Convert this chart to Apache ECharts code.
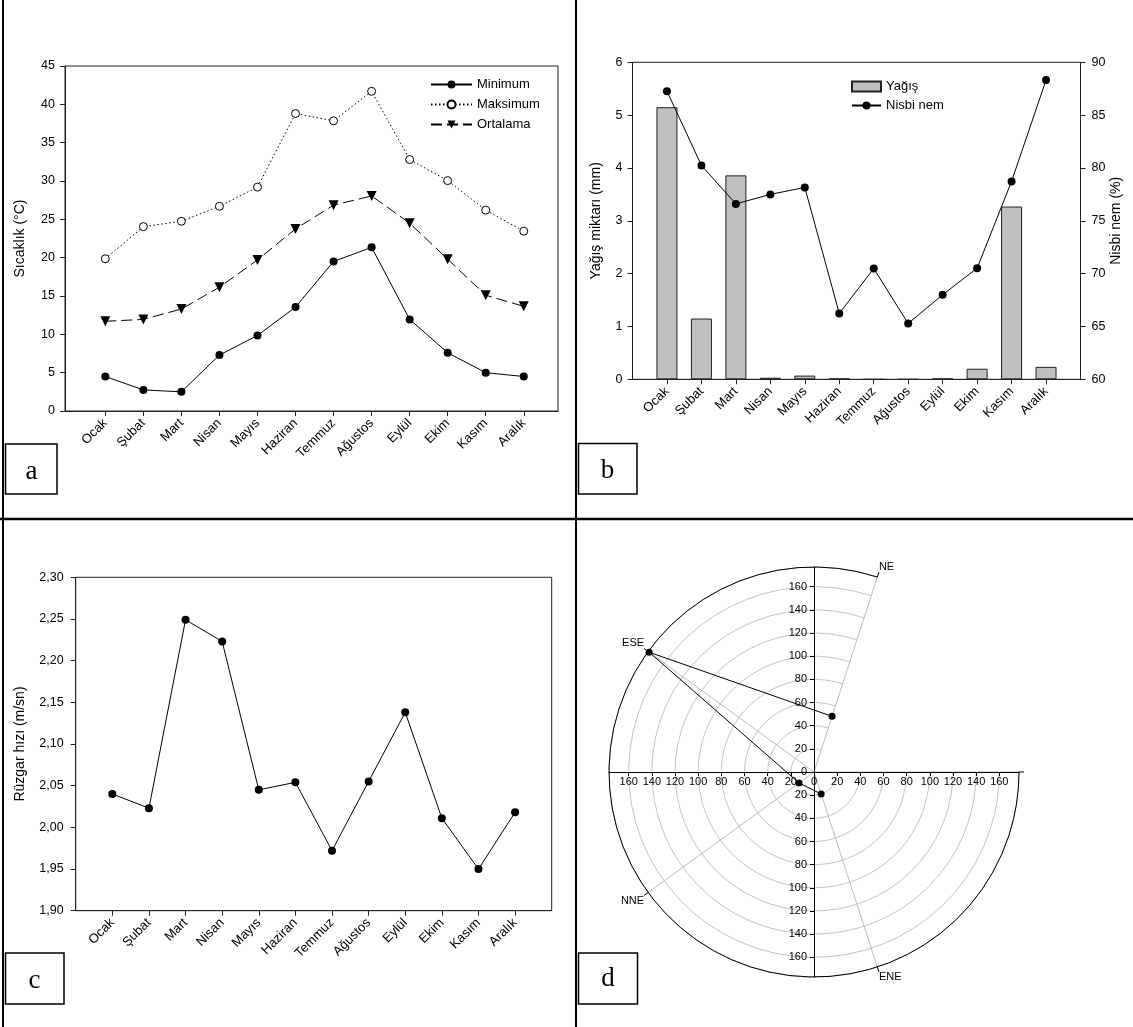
<!DOCTYPE html>
<html><head><meta charset="utf-8">
<script src="https://cdn.jsdelivr.net/npm/echarts@6/dist/echarts.min.js"></script>
<style>html,body{margin:0;padding:0;background:#fff}#c{width:1133px;height:1027px}</style>
</head><body><div id="c"></div>
<script>
// ---------- data ----------
const months = ['Ocak','Şubat','Mart','Nisan','Mayıs','Haziran','Temmuz','Ağustos','Eylül','Ekim','Kasım','Aralık'];
// panel a: temperature (°C)
const tempMin  = [4.5, 2.75, 2.5, 7.3, 9.85, 13.55, 19.5, 21.35, 11.95, 7.6, 5.0, 4.5];
const tempMax  = [19.85, 24.05, 24.75, 26.7, 29.2, 38.8, 37.85, 41.7, 32.8, 30.05, 26.2, 23.45];
const tempMean = [11.7, 11.95, 13.3, 16.15, 19.7, 23.75, 26.85, 28.05, 24.5, 19.8, 15.1, 13.65];
// panel b: precipitation (mm) and relative humidity (%)
const rain     = [5.15, 1.15, 3.86, 0.03, 0.07, 0.015, 0, 0, 0.015, 0.2, 3.27, 0.235];
const humidity = [87.27, 80.24, 76.6, 77.5, 78.16, 66.23, 70.48, 65.28, 68.0, 70.52, 78.73, 88.32];
// panel c: wind speed (m/s)
const wind     = [2.040, 2.023, 2.249, 2.223, 2.045, 2.054, 1.972, 2.055, 2.138, 2.011, 1.950, 2.018];
// panel d: wind direction polar plot
const directions = ['NE', 'ESE', 'NNE', 'ENE', ''];
const dirValues  = [50.5, 176, 16, 20, null];
const radialTickLabels = [0, 20, 40, 60, 80, 100, 120, 140, 160];

// ---------- helpers ----------
const idx = months.map((_, i) => i);
const pairs = arr => arr.map((v, i) => [i, v]);
const radTicks = radialTickLabels.slice(1).reverse().map(v => -v).concat(radialTickLabels);
const AX = '#222';
const FONT = '"Liberation Sans", Arial, sans-serif';
const SERIF = '"Liberation Serif", "Times New Roman", serif';
const POLAR_R = 205;

function monthAxis(gi, min, max) {
  return {
    type: 'value', gridIndex: gi, min: min, max: max,
    axisLine: {show: true, onZero: false, lineStyle: {color: AX, width: 1}},
    axisTick: {show: true, customValues: idx, length: 5, lineStyle: {color: AX}},
    axisLabel: {customValues: idx, formatter: v => months[Math.round(v)], rotate: 45, margin: 10,
                fontSize: 13, color: '#000', fontFamily: FONT},
    splitLine: {show: false}
  };
}
function valAxis(gi, min, max, interval, name, gap, opts) {
  return Object.assign({
    type: 'value', gridIndex: gi, min: min, max: max, interval: interval,
    name: name, nameLocation: 'middle', nameRotate: 90, nameGap: gap,
    nameTextStyle: {fontSize: 14, color: '#000', fontFamily: FONT},
    axisLine: {show: true, onZero: false, lineStyle: {color: AX, width: 1}},
    axisTick: {show: true, length: 5, lineStyle: {color: AX}},
    axisLabel: {fontSize: 12.5, color: '#000', margin: 10, fontFamily: FONT},
    splitLine: {show: false}
  }, opts || {});
}
function crossAxis(pos, margin) {
  return {
    type: 'value', gridIndex: 3, min: -177, max: 177, position: pos, offset: -POLAR_R,
    axisLine: {show: true, onZero: false, lineStyle: {color: '#000', width: 1}},
    axisTick: {show: true, customValues: radTicks, length: 4, lineStyle: {color: '#000'}},
    axisLabel: {customValues: radTicks, formatter: v => String(Math.abs(v)), fontSize: 11, margin: margin, color: '#000', fontFamily: FONT},
    splitLine: {show: false}, z: 5
  };
}

const chart = echarts.init(document.getElementById('c'), null, {renderer: 'canvas'});
const gridBase = {show: true, borderColor: AX, borderWidth: 1, backgroundColor: 'transparent', outerBoundsMode: 'none', containLabel: false};

const option = {
  animation: false,
  backgroundColor: '#fff',
  textStyle: {fontFamily: FONT, color: '#000'},
  grid: [
    Object.assign({left: 65, top: 66, width: 493, height: 345}, gridBase),
    Object.assign({left: 632.5, top: 62.3, width: 448, height: 317}, gridBase),
    Object.assign({left: 75.7, top: 577.3, width: 476, height: 333.4}, gridBase),
    {left: 814 - POLAR_R, top: 772 - POLAR_R, width: 2 * POLAR_R, height: 2 * POLAR_R, show: false, outerBoundsMode: 'none', containLabel: false}
  ],
  xAxis: [
    monthAxis(0, -1.06, 11.9),
    monthAxis(1, -1, 12),
    monthAxis(2, -1, 12),
    crossAxis('bottom', 4)
  ],
  yAxis: [
    valAxis(0, 0, 45, 5, 'Sıcaklık (°C)', 38),
    valAxis(1, 0, 6, 1, 'Yağış miktarı (mm)', 29),
    valAxis(1, 60, 90, 5, 'Nisbi nem (%)', 27, {position: 'right',
      axisLabel: {fontSize: 12.5, color: '#000', margin: 11, fontFamily: FONT}}),
    valAxis(2, 1.9, 2.3, 0.05, 'Rüzgar hızı (m/sn)', 49, {
      axisLabel: {fontSize: 12.5, color: '#000', margin: 12, fontFamily: FONT,
                  formatter: v => v.toFixed(2).replace('.', ',')}}),
    crossAxis('left', 7)
  ],
  polar: {center: [814, 772], radius: POLAR_R},
  angleAxis: {
    type: 'category', data: directions, startAngle: 72, clockwise: false, boundaryGap: false,
    axisLine: {show: true, lineStyle: {color: '#000', width: 1}},
    axisTick: {show: true, length: 5, lineStyle: {color: '#000'}},
    axisLabel: {show: true, fontSize: 11, margin: 5, color: '#000', fontFamily: FONT},
    splitLine: {show: true, lineStyle: {color: '#bdbdbd', width: 1}}
  },
  radiusAxis: {
    type: 'value', min: 0, max: 177, interval: 20,
    axisLine: {show: false}, axisTick: {show: false}, axisLabel: {show: false},
    splitLine: {show: true, lineStyle: {color: '#c4c4c4', width: 1}}
  },
  legend: [
    {data: ['Minimum', 'Maksimum', 'Ortalama'], orient: 'vertical', left: 430, top: 78,
     itemWidth: 41, itemHeight: 10, itemGap: 7, padding: 0,
     textStyle: {fontSize: 13, color: '#000', fontFamily: FONT}},
    {data: [{name: 'Yağış', icon: 'rect'}, 'Nisbi nem'], orient: 'vertical', left: 851, top: 80,
     itemWidth: 29, itemHeight: 10, itemGap: 6, padding: 0,
     textStyle: {fontSize: 13, color: '#000', fontFamily: FONT}}
  ],
  series: [
    {name: 'Minimum', type: 'line', xAxisIndex: 0, yAxisIndex: 0, data: pairs(tempMin),
     symbol: 'circle', symbolSize: 8, itemStyle: {color: '#000'}, lineStyle: {color: '#000', width: 1}},
    {name: 'Maksimum', type: 'line', xAxisIndex: 0, yAxisIndex: 0, data: pairs(tempMax),
     symbol: 'circle', symbolSize: 8, itemStyle: {color: '#fff', borderColor: '#000', borderWidth: 1},
     lineStyle: {color: '#000', width: 1, type: [1.5, 2.5]}},
    {name: 'Ortalama', type: 'line', xAxisIndex: 0, yAxisIndex: 0, data: pairs(tempMean),
     symbol: 'triangle', symbolRotate: 180, symbolSize: 10, itemStyle: {color: '#000'},
     lineStyle: {color: '#000', width: 1, type: [11, 5]}},
    {name: 'Yağış', type: 'bar', xAxisIndex: 1, yAxisIndex: 1, data: pairs(rain), barWidth: 21,
     itemStyle: {color: '#c0c0c0', borderColor: '#222', borderWidth: 1}},
    {name: 'Nisbi nem', type: 'line', xAxisIndex: 1, yAxisIndex: 2, data: pairs(humidity),
     symbol: 'circle', symbolSize: 8, itemStyle: {color: '#000'}, lineStyle: {color: '#000', width: 1}},
    {name: 'Rüzgar hızı', type: 'line', xAxisIndex: 2, yAxisIndex: 3, data: pairs(wind),
     symbol: 'circle', symbolSize: 8, itemStyle: {color: '#000'}, lineStyle: {color: '#000', width: 1}},
    {name: 'Rüzgar yönü', type: 'line', coordinateSystem: 'polar', data: dirValues,
     symbol: 'circle', symbolSize: 7, itemStyle: {color: '#000'}, lineStyle: {color: '#000', width: 1}, z: 10}
  ],
  graphic: [
    {type: 'line', shape: {x1: 3, y1: 0, x2: 3, y2: 1027}, style: {stroke: '#000', lineWidth: 2}},
    {type: 'line', shape: {x1: 576, y1: 0, x2: 576, y2: 1027}, style: {stroke: '#000', lineWidth: 2}},
    {type: 'line', shape: {x1: 0, y1: 519, x2: 1133, y2: 519}, style: {stroke: '#000', lineWidth: 2.5}},
    {type: 'rect', shape: {x: 5.5, y: 444, width: 51.5, height: 50}, style: {fill: '#fff', stroke: '#000', lineWidth: 1.5}},
    {type: 'rect', shape: {x: 578.5, y: 443.5, width: 58.5, height: 50.5}, style: {fill: '#fff', stroke: '#000', lineWidth: 1.5}},
    {type: 'rect', shape: {x: 5.5, y: 953, width: 58.5, height: 51}, style: {fill: '#fff', stroke: '#000', lineWidth: 1.5}},
    {type: 'rect', shape: {x: 578.5, y: 953, width: 59, height: 51}, style: {fill: '#fff', stroke: '#000', lineWidth: 1.5}},
    {type: 'text', x: 31.5, y: 472, style: {text: 'a', fontSize: 27, fontFamily: SERIF, fill: '#000', align: 'center', verticalAlign: 'middle'}},
    {type: 'text', x: 607.5, y: 471, style: {text: 'b', fontSize: 27, fontFamily: SERIF, fill: '#000', align: 'center', verticalAlign: 'middle'}},
    {type: 'text', x: 34.5, y: 981, style: {text: 'c', fontSize: 27, fontFamily: SERIF, fill: '#000', align: 'center', verticalAlign: 'middle'}},
    {type: 'text', x: 608, y: 979, style: {text: 'd', fontSize: 27, fontFamily: SERIF, fill: '#000', align: 'center', verticalAlign: 'middle'}}
  ]
};
chart.setOption(option);
</script>
</body></html>
